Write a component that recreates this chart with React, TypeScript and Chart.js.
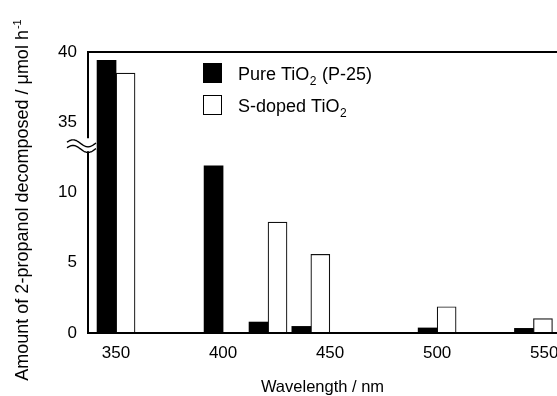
import React, { useEffect, useRef } from "react";
import { Chart, registerables } from "chart.js";

Chart.register(...registerables);

// ---- data ----
const wavelengths = [350, 400, 421, 441, 500, 545];
const pureTiO2 = [39.4, 11.9, 0.78, 0.47, 0.36, 0.33];
const sDopedTiO2 = [38.5, 0, 7.9, 5.6, 1.87, 1.02];
const xTickValues = [350, 400, 450, 500, 550];
const yTickValues = [0, 5, 10, 35, 40];
const seriesLabels = ["Pure TiO₂ (P-25)", "S-doped TiO₂"];
const xTitle = "Wavelength / nm";
const yTitleMain = "Amount of 2-propanol decomposed / μmol h";
const yTitleSup = "-1";

// broken axis: values above BREAK_LOW are shifted down by BREAK_SHIFT
const BREAK_LOW = 13.3;
const BREAK_SHIFT = 20;
const toAxis = (v: number) => (v > BREAK_LOW ? v - BREAK_SHIFT : v);

const FONT = "'Liberation Sans', Arial, Helvetica, sans-serif";

function drawRich(ctx: CanvasRenderingContext2D, text: string, x: number, y: number, size: number) {
  // draws text; '₂' rendered as lowered small 2
  const parts = text.split("₂");
  let cx = x;
  parts.forEach((p, i) => {
    ctx.font = `${size}px ${FONT}`;
    ctx.fillText(p, cx, y);
    cx += ctx.measureText(p).width;
    if (i < parts.length - 1) {
      ctx.font = `${Math.round(size * 0.65)}px ${FONT}`;
      ctx.fillText("2", cx + 0.5, y + size * 0.3);
      cx += ctx.measureText("2").width + 1;
    }
  });
}

const decorPlugin = {
  id: "decor",
  afterDatasetsDraw(chart: any) {
    const { ctx, chartArea: a, scales } = chart;
    const bc = scales.y.getPixelForValue(BREAK_LOW);
    ctx.save();
    ctx.strokeStyle = "#000";
    ctx.lineWidth = 2;
    ctx.beginPath();
    ctx.moveTo(a.left - 1, a.top);
    ctx.lineTo(a.right, a.top);
    ctx.moveTo(a.left - 1, a.bottom);
    ctx.lineTo(a.right, a.bottom);
    ctx.moveTo(a.left, a.top);
    ctx.lineTo(a.left, bc - 8);
    ctx.moveTo(a.left, bc + 5);
    ctx.lineTo(a.left, a.bottom);
    ctx.stroke();

    // break symbol: two tilde-like waves
    ctx.lineWidth = 1.4;
    [-2.8, 2.8].forEach((off) => {
      const c = bc + off;
      ctx.beginPath();
      for (let x = a.left - 21; x <= a.left + 8; x += 0.5) {
        const y = c - 3.5 * Math.cos((2 * Math.PI * (x - (a.left - 15))) / 30);
        if (x === a.left - 21) ctx.moveTo(x, y);
        else ctx.lineTo(x, y);
      }
      ctx.stroke();
    });

    // legend
    const ds = chart.data.datasets;
    const lx = a.left + 115;
    const rows = [a.top + 11, a.top + 43];
    ds.forEach((d: any, i: number) => {
      const ty = rows[i];
      ctx.fillStyle = d.backgroundColor;
      ctx.fillRect(lx, ty, 19, 20);
      ctx.strokeStyle = "#000";
      ctx.lineWidth = 1;
      ctx.strokeRect(lx + 0.5, ty + 0.5, 18, 19);
      ctx.fillStyle = "#000";
      ctx.textBaseline = "alphabetic";
      ctx.textAlign = "left";
      drawRich(ctx, d.label, lx + 35, ty + 16.5, 18);
    });

    // y-axis title (rotated, with superscript)
    ctx.save();
    ctx.translate(28, 200);
    ctx.rotate(-Math.PI / 2);
    ctx.fillStyle = "#000";
    ctx.textBaseline = "alphabetic";
    ctx.textAlign = "left";
    ctx.font = `18px ${FONT}`;
    const wMain = ctx.measureText(yTitleMain).width;
    ctx.font = `11px ${FONT}`;
    const wSup = ctx.measureText(yTitleSup).width;
    const start = -(wMain + wSup + 1) / 2;
    ctx.font = `18px ${FONT}`;
    ctx.fillText(yTitleMain, start, 0);
    ctx.font = `11px ${FONT}`;
    ctx.fillText(yTitleSup, start + wMain + 1, -7);
    ctx.restore();

    ctx.restore();
  },
};

export default function App() {
  const ref = useRef<HTMLCanvasElement>(null);

  useEffect(() => {
    if (!ref.current) return;
    const chart = new Chart(ref.current, {
      type: "bar",
      data: {
        datasets: [
          {
            label: seriesLabels[0],
            data: wavelengths.map((w, i) => ({ x: w, y: toAxis(pureTiO2[i]) })),
            backgroundColor: "#000000",
            borderColor: "#000000",
            borderWidth: 0,
            barThickness: 19,
          },
          {
            label: seriesLabels[1],
            data: wavelengths.map((w, i) => ({ x: w, y: toAxis(sDopedTiO2[i]) })),
            backgroundColor: "#ffffff",
            borderColor: "#111111",
            borderWidth: 1.2,
            barThickness: 19,
          },
        ],
      },
      options: {
        animation: false,
        responsive: false,
        devicePixelRatio: 1,
        layout: { padding: { top: 52, left: 0, right: 0, bottom: 0 } },
        plugins: {
          legend: { display: false },
          tooltip: { enabled: false },
        },
        scales: {
          x: {
            type: "linear",
            min: 336.9,
            max: 556.0,
            offset: false,
            grid: { display: false, drawTicks: false, offset: false },
            border: { display: false },
            afterBuildTicks: (s: any) => {
              s.ticks = xTickValues.map((v) => ({ value: v }));
            },
            afterFit: (s: any) => {
              s.height = 63;
              s.paddingLeft = 0;
              s.paddingRight = 0;
            },
            ticks: {
              padding: 10,
              maxRotation: 0,
              autoSkip: false,
              color: "#000",
              font: { family: FONT, size: 17 },
              callback: (v: any) => String(v),
            },
            title: {
              display: true,
              text: xTitle,
              color: "#000",
              font: { family: FONT, size: 16.5, lineHeight: 1 },
              padding: { top: 0, bottom: 0 },
            },
          },
          y: {
            type: "linear",
            min: 0,
            max: 20,
            grid: { display: false, drawTicks: false },
            border: { display: false },
            afterBuildTicks: (s: any) => {
              s.ticks = yTickValues.map((v) => ({ value: toAxis(v) }));
            },
            afterFit: (s: any) => {
              s.width = 88;
              s.paddingTop = 0;
              s.paddingBottom = 0;
            },
            ticks: {
              padding: 11,
              color: "#000",
              font: { family: FONT, size: 17 },
              callback: (v: any) => {
                const idx = yTickValues.findIndex((t) => toAxis(t) === v);
                return idx >= 0 ? String(yTickValues[idx]) : "";
              },
            },
          },
        },
      },
      plugins: [decorPlugin],
    });
    return () => chart.destroy();
  }, []);

  return (
    <div style={{ position: "fixed", left: 0, top: 0, width: 557, height: 396, background: "#fff" }}>
      <canvas ref={ref} width={557} height={396} style={{ width: 557, height: 396, display: "block" }} />
    </div>
  );
}
